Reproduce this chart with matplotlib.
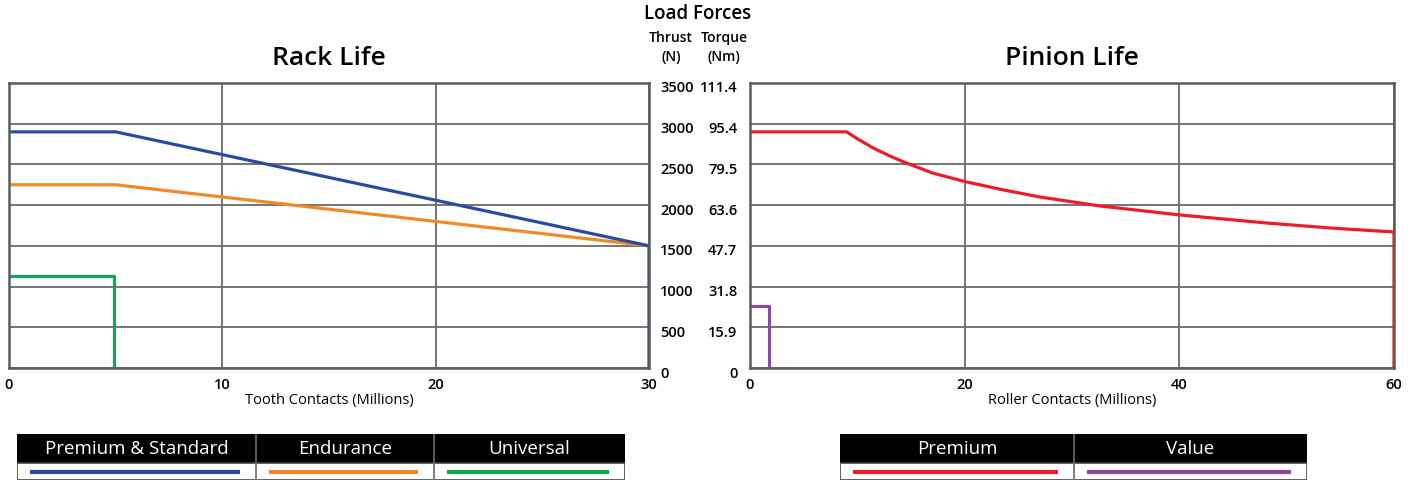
import numpy as np
import matplotlib.pyplot as plt
from matplotlib.transforms import offset_copy
from matplotlib.patches import Rectangle

plt.rcParams['font.family'] = ['Open Sans', 'Noto Sans', 'DejaVu Sans']

# Rack life data (millions of tooth contacts vs thrust N)
rack_premium_x = [0, 5, 30, 30]
rack_premium_y = [2900, 2900, 1500, 0]
rack_endurance_x = [0, 5, 30]
rack_endurance_y = [2250, 2250, 1500]
rack_universal_x = [0, 4.9, 4.9]
rack_universal_y = [1130, 1130, 0]

# Pinion life data (millions of roller contacts vs thrust N)
pinion_premium_x = [0, 9, 10, 11.5, 13, 14.6, 17, 20, 23.5, 27, 32.6, 40, 48.2, 54, 60, 60]
pinion_premium_y = [2900, 2900, 2815, 2700, 2605, 2515, 2395, 2290, 2190, 2100, 1990, 1880, 1780, 1720, 1670, 0]
pinion_value_x = [0, 1.8, 1.8]
pinion_value_y = [760, 760, 0]

thrust_ticks = [0, 500, 1000, 1500, 2000, 2500, 3000, 3500]
torque_labels = ['0', '15.9', '31.8', '47.7', '63.6', '79.5', '95.4', '111.4']

c_blue = '#2a4a9e'
c_orange = '#f08a28'
c_green = '#12a652'
c_red = '#ec1c2a'
c_purple = '#8a4aa2'
grid_c = '#6a6a6a'

W, H = 1418, 482
fig = plt.figure(figsize=(W / 100, H / 100), dpi=100)


def fbox(x0, y0, x1, y1):
    return [x0 / W, 1 - y1 / H, (x1 - x0) / W, (y1 - y0) / H]


ax1 = fig.add_axes(fbox(9, 83, 649, 368))
ax2 = fig.add_axes(fbox(750, 83, 1394, 368))

for ax in (ax1, ax2):
    ax.set_ylim(0, 3500)
    ax.set_yticks(thrust_ticks)
    ax.grid(True, color=grid_c, lw=1.3)
    ax.set_axisbelow(True)
    for s in ax.spines.values():
        s.set_color('#5c5c5c')
        s.set_linewidth(1.8)
    ax.tick_params(length=0, labelsize=10.5)

ax1.set_xlim(0, 30)
ax1.set_xticks([0, 10, 20, 30])
ax2.set_xlim(0, 60)
ax2.set_xticks([0, 20, 40, 60])

ax1.plot(rack_endurance_x, rack_endurance_y, color=c_orange, lw=2.3)
ax1.plot(rack_premium_x, rack_premium_y, color=c_blue, lw=2.3)
ax1.plot(rack_universal_x, rack_universal_y, color=c_green, lw=2.3)
ax2.plot(pinion_premium_x, pinion_premium_y, color=c_red, lw=2.3)
ax2.plot(pinion_value_x, pinion_value_y, color=c_purple, lw=2.3)

# thrust labels on right side of rack chart, torque on left of pinion chart
ax1.yaxis.tick_right()
ax1.set_yticklabels([str(t) for t in thrust_ticks])
ax1.tick_params(axis='y', pad=8)
ax2.set_yticklabels(torque_labels)
ax2.tick_params(axis='y', pad=9)
ax1.tick_params(axis='x', pad=7)
ax2.tick_params(axis='x', pad=7)

for ax in (ax1, ax2):
    for lab in ax.get_xticklabels() + ax.get_yticklabels():
        lab.set_fontweight(600)
    for lab in ax.get_yticklabels():
        lab.set_transform(offset_copy(lab.get_transform(), fig=fig, y=-4, units='dots'))

ax1.set_xlabel('Tooth Contacts (Millions)', fontsize=10.5, labelpad=1)
ax2.set_xlabel('Roller Contacts (Millions)', fontsize=10.5, labelpad=1)
ax1.set_title('Rack Life', fontsize=19, fontweight=600, pad=13)
ax2.set_title('Pinion Life', fontsize=19, fontweight=600, pad=13)

fig.text(698 / W, 1 - 14 / H, 'Load Forces', ha='center', va='center', fontsize=13.5, fontweight=600)
fig.text(671 / W, 1 - 38 / H, 'Thrust', ha='center', va='center', fontsize=10, fontweight=600)
fig.text(724 / W, 1 - 38 / H, 'Torque', ha='center', va='center', fontsize=10, fontweight=600)
fig.text(671 / W, 1 - 57 / H, '(N)', ha='center', va='center', fontsize=10, fontweight=600)
fig.text(724 / W, 1 - 57 / H, '(Nm)', ha='center', va='center', fontsize=10, fontweight=600)


def legend_table(x0, x1, splits, names, colors):
    lax = fig.add_axes(fbox(x0, 434, x1, 480))
    lax.set_xlim(x0, x1)
    lax.set_ylim(480, 434)
    lax.axis('off')
    edges = [x0] + splits + [x1]
    lax.add_patch(Rectangle((x0, 434), x1 - x0, 29, color='black'))
    lax.add_patch(Rectangle((x0, 463), x1 - x0, 17, facecolor='white', edgecolor='#444444', lw=1.2))
    for i, (name, col) in enumerate(zip(names, colors)):
        a, b = edges[i], edges[i + 1]
        lax.text((a + b) / 2, 449, name, color='white', ha='center', va='center', fontsize=13.5,
                 fontweight=500)
        lax.plot([a + 13, b - 16], [472, 472], color=col, lw=3, solid_capstyle='butt')
        if i > 0:
            lax.plot([a, a], [434, 480], color='#6a6a6a', lw=1.2)


legend_table(17, 625, [256, 434], ['Premium & Standard', 'Endurance', 'Universal'],
             [c_blue, c_orange, c_green])
legend_table(840, 1307, [1074], ['Premium', 'Value'], [c_red, c_purple])

fig.savefig('out.png', dpi=100)
